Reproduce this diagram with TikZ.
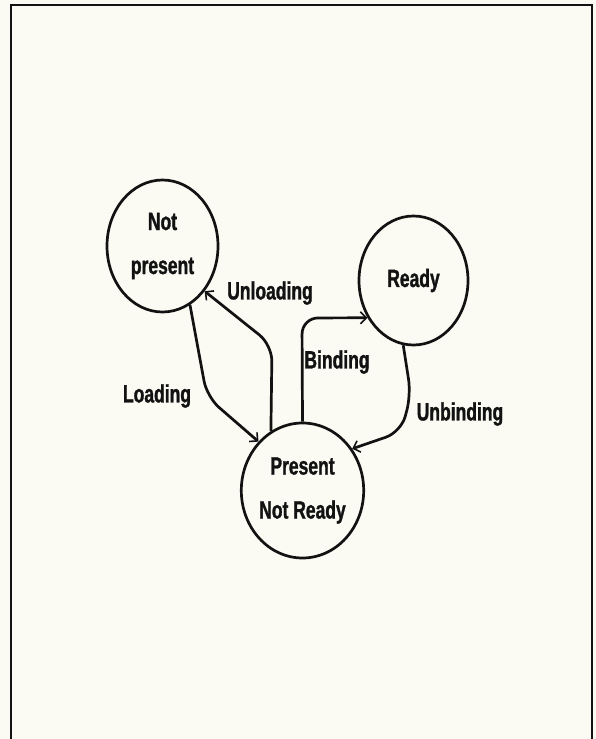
\documentclass[tikz,border=0pt]{standalone}
\usepackage{fontspec}
\newfontfamily\lab[FakeStretch=0.7,FakeBold=1.2]{Liberation Sans Bold}
\usetikzlibrary{shapes.geometric,arrows.meta}
\definecolor{paper}{HTML}{FBFBF4}
\definecolor{ink}{HTML}{121212}
\begin{document}
\begin{tikzpicture}[x=1pt,y=-1pt,
  state/.style={ellipse,draw=ink,line width=2.7pt,inner sep=0pt,align=center,
    text=ink,font={\lab\fontsize{25}{44}\selectfont}},
  lbl/.style={text=ink,font={\lab\fontsize{25}{30}\selectfont},inner sep=0pt},
  conn/.style={draw=ink,line width=2.7pt,rounded corners=16pt,
    -{Straight Barb[length=6pt,width=12pt,line width=1.6pt]}},
  frame/.style={draw=ink,line width=2.8pt}]
\fill[paper] (0,0) rectangle (596,739);
\useasboundingbox (0,0) rectangle (596,739);
\draw[frame] (11,739) -- (11,5) -- (592,5) -- (592,739);

\node[state,minimum width=111pt,minimum height=132pt] (np) at (162.5,246) {Not\\present};
\node[state,minimum width=109pt,minimum height=129pt] (rdy) at (413.5,280.5) {Ready};
\node[state,minimum width=111pt,minimum height=135pt] (pnr) at (302.5,490.5) {Present\\Not Ready};

\draw[conn] (np.-65) -- (207,397) -- (pnr.132);
\draw[conn] (pnr.118) -- (272,345) -- (np.-47);
\draw[conn] (pnr.90) -- (302,318) -- (rdy.219);
\draw[conn] (rdy.261) -- (411,395) -- (401,432) -- (pnr.40);

\node[lbl] (lunload) at (270,293) {Unloading};
\node[lbl] (lload) at (157,396) {Loading};
\node[lbl] (lbind) at (337,362) {Binding};
\node[lbl] (lunbind) at (460,414) {Unbinding};
\end{tikzpicture}
\end{document}
